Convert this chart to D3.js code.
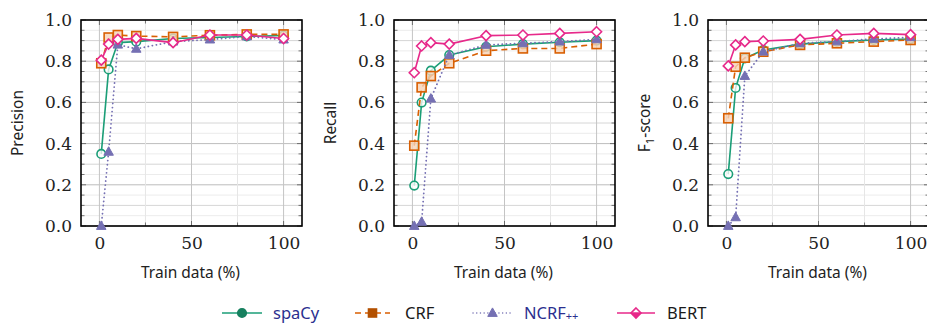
<!DOCTYPE html>
<html>
<head>
<meta charset="utf-8">
<script src="https://cdn.jsdelivr.net/npm/d3@7"></script>
<style>
html,body{margin:0;padding:0;background:#fff;}
svg{display:block;}
.ticklab{font-family:"DejaVu Serif", serif;}
.sanslab{font-family:"Noto Sans", sans-serif;}
</style>
</head>
<body>
<svg id="chart" width="927" height="323"></svg>
<script>
// ---------- data ----------
const trainData = [1, 5, 10, 20, 40, 60, 80, 100];
const seriesNames = ["spaCy", "CRF", "NCRF++", "BERT"];
const panelLabels = ["Precision", "Recall", "F1-score"];
const xTicks = [0, 50, 100];
const yTicks = [0.0, 0.2, 0.4, 0.6, 0.8, 1.0];

const precisionSpacy = [0.35, 0.76, 0.89, 0.895, 0.91, 0.915, 0.92, 0.925];
const precisionCRF   = [0.79, 0.915, 0.927, 0.922, 0.918, 0.926, 0.93, 0.93];
const precisionNCRF  = [0.0, 0.36, 0.88, 0.86, 0.895, 0.905, 0.92, 0.905];
const precisionBERT  = [0.805, 0.883, 0.906, 0.911, 0.89, 0.927, 0.927, 0.91];

const recallSpacy = [0.196, 0.599, 0.754, 0.83, 0.87, 0.883, 0.892, 0.9];
const recallCRF   = [0.39, 0.673, 0.728, 0.79, 0.851, 0.862, 0.862, 0.883];
const recallNCRF  = [0.0, 0.02, 0.618, 0.83, 0.879, 0.887, 0.895, 0.906];
const recallBERT  = [0.744, 0.874, 0.89, 0.883, 0.924, 0.927, 0.935, 0.943];

const f1Spacy = [0.252, 0.67, 0.814, 0.854, 0.883, 0.895, 0.903, 0.908];
const f1CRF   = [0.523, 0.773, 0.817, 0.846, 0.879, 0.887, 0.895, 0.903];
const f1NCRF  = [0.0, 0.042, 0.728, 0.846, 0.887, 0.896, 0.908, 0.916];
const f1BERT  = [0.777, 0.879, 0.895, 0.898, 0.906, 0.927, 0.935, 0.929];

// ---------- styles ----------
const colors = {"spaCy":"#1b9e77","CRF":"#d95f02","NCRF++":"#7570b3","BERT":"#e7298a"};
const dashes = {"spaCy":null,"CRF":"6,4","NCRF++":"0.1,4","BERT":null};

const panels = [
  {label: panelLabels[0], left: 81,  values: [precisionSpacy, precisionCRF, precisionNCRF, precisionBERT]},
  {label: panelLabels[1], left: 394, values: [recallSpacy, recallCRF, recallNCRF, recallBERT]},
  {label: panelLabels[2], left: 708, values: [f1Spacy, f1CRF, f1NCRF, f1BERT]}
];
const boxW = 221, plotTop = 20, plotBottom = 226;

const svg = d3.select("#chart");

function drawMarker(g, name, x, y, legend) {
  const c = colors[name];
  if (name === "spaCy") {
    g.append("circle").attr("cx", x).attr("cy", y).attr("r", 4.3)
      .attr("fill", legend ? "#17805f" : "#ffffff").attr("fill-opacity", legend ? 1 : 0.75)
      .attr("stroke", legend ? "#17805f" : c).attr("stroke-width", 1.6);
  } else if (name === "CRF") {
    const s = legend ? 8 : 9;
    g.append("rect").attr("x", x - s/2).attr("y", y - s/2).attr("width", s).attr("height", s)
      .attr("fill", legend ? "#b35000" : "#f6d2b5").attr("fill-opacity", legend ? 1 : 0.8)
      .attr("stroke", legend ? "#b35000" : c).attr("stroke-width", 1.6);
  } else if (name === "NCRF++") {
    const h = 8.5, w = 9.5;
    g.append("path").attr("d", `M${x},${y - h*0.6}L${x + w/2},${y + h*0.4}L${x - w/2},${y + h*0.4}Z`)
      .attr("fill", c).attr("stroke", c).attr("stroke-width", 1);
  } else {
    const r = 5;
    if (legend) {
      g.append("path").attr("d", `M${x - r},${y}L${x + r},${y}L${x},${y + r}Z`).attr("fill", c);
    }
    g.append("path").attr("d", `M${x},${y - r}L${x + r},${y}L${x},${y + r}L${x - r},${y}Z`)
      .attr("fill", legend ? "none" : "#ffffff").attr("stroke", c).attr("stroke-width", 1.6);
  }
}

panels.forEach(p => {
  const x = d3.scaleLinear().domain([-10, 110]).range([p.left, p.left + boxW]);
  const y = d3.scaleLinear().domain([0, 1]).range([plotBottom, plotTop]);
  const g = svg.append("g");

  // grid
  const yMinor = d3.range(0, 1.0001, 0.05);
  g.selectAll(".ym").data(yMinor).enter().append("line")
    .attr("x1", p.left).attr("x2", p.left + boxW)
    .attr("y1", d => y(d)).attr("y2", d => y(d))
    .attr("stroke", d => (Math.round(d*100) % 20 === 0) ? "#bdbdbd" : (Math.round(d*100) % 10 === 0 ? "#d6d6d6" : "#ececec"))
    .attr("stroke-width", 1);
  const xGrid = [0, 25, 50, 75, 100];
  g.selectAll(".xg").data(xGrid).enter().append("line")
    .attr("x1", d => x(d)).attr("x2", d => x(d))
    .attr("y1", plotTop).attr("y2", plotBottom)
    .attr("stroke", d => d % 50 === 0 ? "#c4c4c4" : "#e6e6e6").attr("stroke-width", 1);

  // tick marks (inside, both sides)
  g.selectAll(".yt").data(yMinor).enter().append("g").each(function(d) {
    const len = (Math.round(d*100) % 20 === 0) ? 5 : 3.5;
    d3.select(this).append("line").attr("x1", p.left).attr("x2", p.left + len)
      .attr("y1", y(d)).attr("y2", y(d)).attr("stroke", "#555").attr("stroke-width", 0.8);
    d3.select(this).append("line").attr("x1", p.left + boxW).attr("x2", p.left + boxW - len)
      .attr("y1", y(d)).attr("y2", y(d)).attr("stroke", "#555").attr("stroke-width", 0.8);
  });
  g.selectAll(".xt").data(xGrid).enter().append("g").each(function(d) {
    const len = d % 50 === 0 ? 5 : 3.5;
    d3.select(this).append("line").attr("x1", x(d)).attr("x2", x(d))
      .attr("y1", plotBottom).attr("y2", plotBottom - len).attr("stroke", "#555").attr("stroke-width", 0.8);
    d3.select(this).append("line").attr("x1", x(d)).attr("x2", x(d))
      .attr("y1", plotTop).attr("y2", plotTop + len).attr("stroke", "#555").attr("stroke-width", 0.8);
  });

  // frame
  g.append("rect").attr("x", p.left).attr("y", plotTop).attr("width", boxW).attr("height", plotBottom - plotTop)
    .attr("fill", "none").attr("stroke", "#000").attr("stroke-width", 1.6);

  // tick labels via d3 axes
  const xAxis = d3.axisBottom(x).tickValues(xTicks).tickFormat(d3.format("d")).tickSize(0).tickPadding(11);
  const ax = g.append("g").attr("transform", `translate(0,${plotBottom})`).call(xAxis);
  ax.select(".domain").remove();
  ax.attr("font-family", null).attr("font-size", null);
  ax.selectAll("text").attr("class", "ticklab").style("font-size", "17px").attr("fill", "#222");

  const yAxis = d3.axisLeft(y).tickValues(yTicks).tickFormat(d3.format(".1f")).tickSize(0).tickPadding(9);
  const ay = g.append("g").attr("transform", `translate(${p.left},0)`).call(yAxis);
  ay.select(".domain").remove();
  ay.attr("font-family", null).attr("font-size", null);
  ay.selectAll("text").attr("class", "ticklab").style("font-size", "17px").attr("fill", "#222");

  // axis titles
  g.append("text").attr("class", "sanslab").attr("x", p.left + boxW/2 - 1).attr("y", 278)
    .attr("text-anchor", "middle").style("font-size", "15.5px").attr("fill", "#222").text("Train data (%)");

  const yt = g.append("text").attr("class", "sanslab")
    .attr("transform", `translate(${p.left - 58},${(plotTop + plotBottom)/2}) rotate(-90)`)
    .attr("text-anchor", "middle").style("font-size", "15.5px").attr("fill", "#222");
  if (p.label === "F1-score") {
    yt.append("tspan").text("F");
    yt.append("tspan").style("font-size", "11px").attr("dy", 4).text("1");
    yt.append("tspan").attr("dy", -4).text("-score");
  } else {
    yt.text(p.label);
  }

  // series
  seriesNames.forEach((name, i) => {
    const vals = p.values[i];
    const pts = trainData.map((t, k) => [t, vals[k]]);
    const line = d3.line().x(d => x(d[0])).y(d => y(d[1]));
    const path = g.append("path").attr("d", line(pts)).attr("fill", "none")
      .attr("stroke", colors[name]).attr("stroke-width", name === "NCRF++" ? 1.8 : 1.6)
      .attr("stroke-linecap", name === "NCRF++" ? "round" : "butt")
      .attr("stroke-linejoin", "round");
    if (dashes[name]) path.attr("stroke-dasharray", dashes[name]);
    pts.forEach(d => drawMarker(g, name, x(d[0]), y(d[1]), false));
  });
});

// ---------- legend ----------
const legendItems = [
  {name: "spaCy", x1: 222, x2: 262, text: "spaCy", tx: 273, tcolor: "#2b2f8f"},
  {name: "CRF", x1: 355, x2: 390, text: "CRF", tx: 405, tcolor: "#1a1a1a"},
  {name: "NCRF++", x1: 473, x2: 512, text: "NCRF", tx: 524, tcolor: "#2b2f8f"},
  {name: "BERT", x1: 617, x2: 655, text: "BERT", tx: 667, tcolor: "#1a1a1a"}
];
const ly = 313;
const lg = svg.append("g");
legendItems.forEach(it => {
  const l = lg.append("line").attr("x1", it.x1).attr("x2", it.x2).attr("y1", ly).attr("y2", ly)
    .attr("stroke", colors[it.name]).attr("stroke-width", it.name === "NCRF++" ? 1.4 : 1.3)
    .attr("stroke-linecap", it.name === "NCRF++" ? "round" : "butt");
  if (it.name === "CRF") l.attr("stroke-dasharray", "6,4");
  if (it.name === "NCRF++") l.attr("stroke-dasharray", "0.1,3.6");
  drawMarker(lg, it.name, (it.x1 + it.x2)/2, ly, true);
  const t = lg.append("text").attr("class", "sanslab").attr("x", it.tx).attr("y", ly + 5.5)
    .style("font-size", "16.5px").attr("fill", it.tcolor);
  t.append("tspan").text(it.text);
  if (it.name === "NCRF++") t.append("tspan").style("font-size", "11px").attr("dy", 1).text("++");
});
</script>
</body>
</html>
